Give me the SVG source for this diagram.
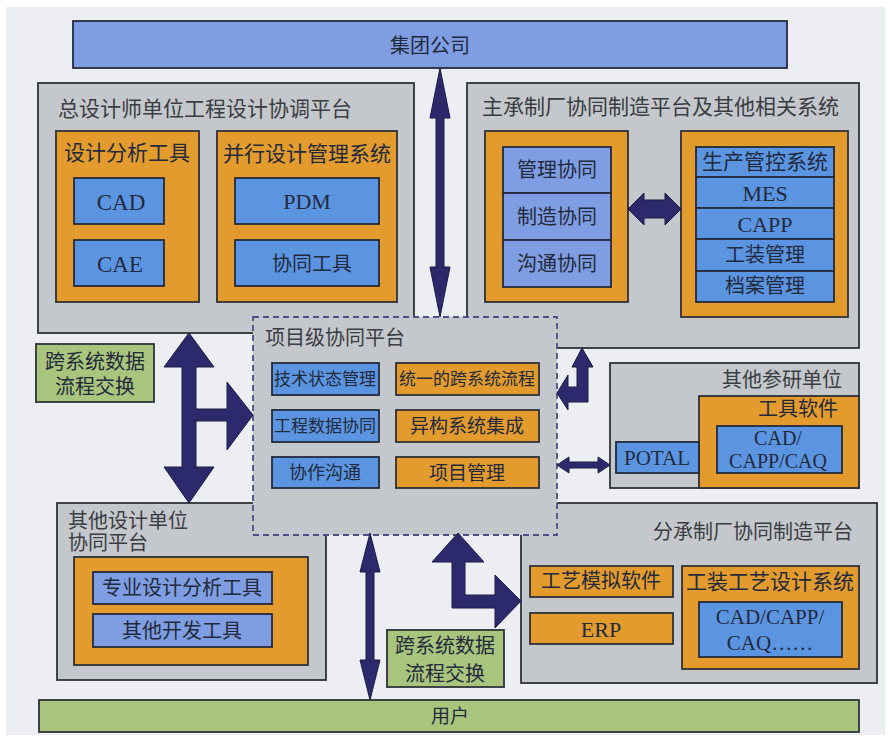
<svg xmlns="http://www.w3.org/2000/svg" width="890" height="739" viewBox="0 0 890 739">
<style>
.bg{fill:#eceef1}
.plat{fill:#c4c7cb;stroke:#2e3338;stroke-width:1.8}
.proj{fill:#c4c7cb;stroke:#4e4f86;stroke-width:1.8;stroke-dasharray:6 4}
.org{fill:#e39b2d;stroke:#2e3035;stroke-width:1.8}
.blu{fill:#5b95e2;stroke:#232a3c;stroke-width:1.8}
.lav{fill:#7f9de2;stroke:#232a3c;stroke-width:1.8}
.grn{fill:#a9c47c;stroke:#2e3338;stroke-width:1.8}
.arr{fill:#2c2a6c;stroke:#1c1b45;stroke-width:1}
text{font-family:"Liberation Serif","Noto Sans CJK SC",serif;dominant-baseline:central;fill:#222a3c}
.c{text-anchor:middle}
.e{text-anchor:end}
.g{fill:#3b3d42}
</style>
<rect x="0" y="0" width="890" height="739" fill="#ffffff"/>
<rect class="bg" x="6" y="7" width="879" height="728"/>

<g id="group-company">
<rect class="lav" x="73" y="21" width="714" height="47"/>
<text class="c" x="430" y="46" font-size="20">集团公司</text>
</g>

<g id="chief-designer-platform">
<rect class="plat" x="38" y="83" width="376" height="250"/>
<text class="g" x="58" y="109" font-size="21">总设计师单位工程设计协调平台</text>
<rect class="org" x="56" y="131" width="143" height="171"/>
<text class="c" x="127" y="153" font-size="21">设计分析工具</text>
<rect class="blu" x="74" y="178" width="90" height="46"/>
<text class="c" x="121" y="202" font-size="23">CAD</text>
<rect class="blu" x="74" y="240" width="90" height="46"/>
<text class="c" x="120" y="264" font-size="23">CAE</text>
<rect class="org" x="217" y="131" width="180" height="171"/>
<text class="c" x="307" y="154" font-size="21">并行设计管理系统</text>
<rect class="blu" x="235" y="178" width="144" height="46"/>
<text class="c" x="307" y="201" font-size="22">PDM</text>
<rect class="blu" x="235" y="240" width="144" height="46"/>
<text class="c" x="312" y="264" font-size="20">协同工具</text>
</g>

<g id="main-manufacturer-platform">
<rect class="plat" x="467" y="83" width="392" height="265"/>
<text class="g" x="482" y="107" font-size="21">主承制厂协同制造平台及其他相关系统</text>
<rect class="org" x="485" y="131" width="143" height="171"/>
<rect class="lav" x="503" y="147" width="108" height="46"/>
<text class="c" x="557" y="170" font-size="20">管理协同</text>
<rect class="lav" x="503" y="193" width="108" height="47"/>
<text class="c" x="557" y="217" font-size="20">制造协同</text>
<rect class="lav" x="503" y="240" width="108" height="47"/>
<text class="c" x="557" y="264" font-size="20">沟通协同</text>
<rect class="org" x="681" y="131" width="167" height="186"/>
<rect class="blu" x="696" y="147" width="138" height="30"/>
<text class="c" x="765" y="162" font-size="21">生产管控系统</text>
<rect class="blu" x="696" y="177" width="138" height="31"/>
<text class="c" x="765" y="193" font-size="22">MES</text>
<rect class="blu" x="696" y="208" width="138" height="31"/>
<text class="c" x="765" y="224" font-size="22">CAPP</text>
<rect class="blu" x="696" y="239" width="138" height="32"/>
<text class="c" x="765" y="255" font-size="20">工装管理</text>
<rect class="blu" x="696" y="271" width="138" height="31"/>
<text class="c" x="765" y="286" font-size="20">档案管理</text>
</g>

<g id="other-research-unit">
<rect class="plat" x="610" y="363" width="249" height="125"/>
<text class="g e" x="842" y="380" font-size="20">其他参研单位</text>
<rect class="org" x="699" y="396" width="160" height="92"/>
<text class="e" x="838" y="409" font-size="20">工具软件</text>
<rect class="blu" x="717" y="426" width="125" height="47"/>
<text class="c" x="778" y="438" font-size="20">CAD/</text>
<text class="c" x="778" y="461" font-size="20">CAPP/CAQ</text>
<rect class="blu" x="616" y="442" width="83" height="31"/>
<text class="c" x="657" y="458" font-size="21">POTAL</text>
</g>

<g id="other-design-unit-platform">
<rect class="plat" x="57" y="503" width="269" height="177"/>
<text class="g" x="68" y="521" font-size="20">其他设计单位</text>
<text class="g" x="68" y="543" font-size="20">协同平台</text>
<rect class="org" x="74" y="557" width="234" height="108"/>
<rect class="lav" x="93" y="572" width="179" height="32"/>
<text class="c" x="182" y="588" font-size="20">专业设计分析工具</text>
<rect class="lav" x="93" y="614" width="179" height="33"/>
<text class="c" x="182" y="631" font-size="20">其他开发工具</text>
</g>

<g id="sub-manufacturer-platform">
<rect class="plat" x="521" y="503" width="356" height="180"/>
<text class="g e" x="853" y="532" font-size="20">分承制厂协同制造平台</text>
<rect class="org" x="530" y="566" width="143" height="31"/>
<text class="c" x="601" y="581" font-size="20">工艺模拟软件</text>
<rect class="org" x="530" y="613" width="143" height="31"/>
<text class="c" x="601" y="629" font-size="22">ERP</text>
<rect class="org" x="682" y="566" width="177" height="103"/>
<text class="c" x="770" y="582" font-size="21">工装工艺设计系统</text>
<rect class="blu" x="699" y="602" width="143" height="55"/>
<text class="c" x="770" y="617" font-size="21">CAD/CAPP/</text>
<text class="c" x="770" y="643" font-size="21">CAQ……</text>
</g>

<g id="project-platform">
<rect class="proj" x="253" y="317" width="304" height="218"/>
<text class="g" x="265" y="338" font-size="20">项目级协同平台</text>
<rect class="blu" x="272" y="363" width="107" height="32"/>
<text class="c" x="325" y="379" font-size="17">技术状态管理</text>
<rect class="blu" x="272" y="410" width="107" height="32"/>
<text class="c" x="325" y="426" font-size="17">工程数据协同</text>
<rect class="blu" x="272" y="457" width="107" height="31"/>
<text class="c" x="325" y="473" font-size="18">协作沟通</text>
<rect class="org" x="396" y="363" width="143" height="32"/>
<text class="c" x="467" y="379" font-size="17">统一的跨系统流程</text>
<rect class="org" x="396" y="410" width="143" height="32"/>
<text class="c" x="467" y="426" font-size="19">异构系统集成</text>
<rect class="org" x="396" y="457" width="143" height="31"/>
<text class="c" x="467" y="473" font-size="19">项目管理</text>
</g>

<g id="exchange-left">
<rect class="grn" x="36" y="344" width="118" height="58"/>
<text class="c" x="95" y="362" font-size="20">跨系统数据</text>
<text class="c" x="95" y="387" font-size="20">流程交换</text>
</g>

<g id="exchange-bottom">
<rect class="grn" x="387" y="630" width="117" height="57"/>
<text class="c" x="445" y="646" font-size="20">跨系统数据</text>
<text class="c" x="445" y="674" font-size="20">流程交换</text>
</g>

<g id="users">
<rect class="grn" x="39" y="700" width="820" height="32"/>
<text class="c" x="450" y="716" font-size="19">用户</text>
</g>

<g id="connectors">
<polygon class="arr" points="440,68 450,118 444,118 444,267 450,267 440,317 430,267 436,267 436,118 430,118"/>
<polygon class="arr" points="189,333 214,367 196,367 196,409 227,409 227,382 253,415 227,450 227,421 196,421 196,467 214,467 189,503 164,467 182,467 182,367 164,367"/>
<polygon class="arr" points="582,348 593,367 588,367 588,402 568,402 568,410 557,393 568,375 568,387 577,387 577,367 572,367"/>
<polygon class="arr" points="557,465 569,457 569,462 598,462 598,457 610,465 598,473 598,468 569,468 569,473"/>
<polygon class="arr" points="628,209 644,193 644,200 665,200 665,193 681,209 665,225 665,218 644,218 644,225"/>
<polygon class="arr" points="370,533 380,572 374,572 374,660 380,660 370,700 360,660 366,660 366,572 360,572"/>
<polygon class="arr" points="458,533 484,562 465,562 465,595 495,595 495,575 521,601 495,628 495,608 452,608 452,562 432,562"/>
</g>
</svg>
